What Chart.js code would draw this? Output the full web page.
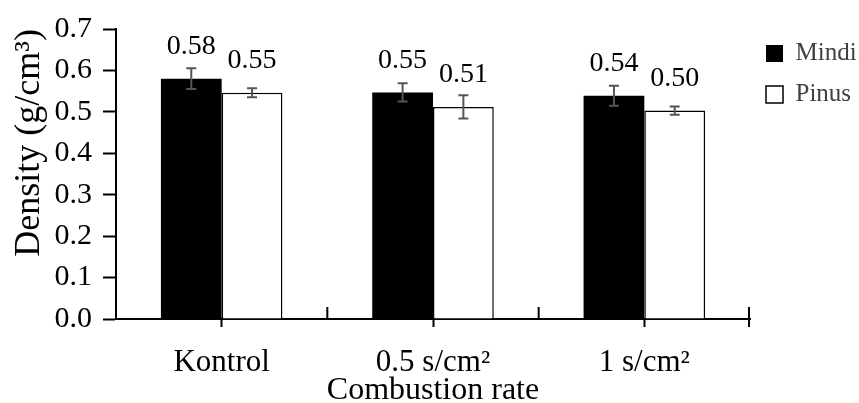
<!DOCTYPE html>
<html lang="en">
<head>
    <meta charset="UTF-8">
    <script src="https://cdn.jsdelivr.net/npm/chart.js"></script>
    <title>Density by combustion rate</title>
    <style>
        html, body { margin: 0; padding: 0; background: #fff; }
        #wrap { width: 859px; height: 403px; }
    </style>
</head>
<body>
    <div id="wrap"><canvas id="densityChart"></canvas></div>
    <script>
        const categories = ['Kontrol', '0.5 s/cm²', '1 s/cm²'];
        const mindi = [0.58, 0.547, 0.539];
        const pinus = [0.546, 0.512, 0.503];
        const mindiErr = [0.025, 0.022, 0.024];
        const pinusErr = [0.011, 0.028, 0.010];
        const errors = [mindiErr, pinusErr];

        Chart.defaults.font.family = "'Liberation Serif', 'Times New Roman', serif";
        Chart.defaults.color = '#000';

        // error bars + value labels above each bar
        const barExtras = {
            id: 'barExtras',
            afterDatasetsDraw(chart) {
                const ctx = chart.ctx;
                const yScale = chart.scales.y;
                ctx.save();
                chart.data.datasets.forEach((ds, di) => {
                    const meta = chart.getDatasetMeta(di);
                    meta.data.forEach((bar, i) => {
                        const v = ds.data[i];
                        const e = errors[di][i];
                        const yTop = yScale.getPixelForValue(v + e);
                        const yBot = yScale.getPixelForValue(v - e);
                        ctx.strokeStyle = '#555';
                        ctx.lineWidth = 2;
                        ctx.beginPath();
                        ctx.moveTo(bar.x, yTop); ctx.lineTo(bar.x, yBot);
                        ctx.moveTo(bar.x - 5, yTop); ctx.lineTo(bar.x + 5, yTop);
                        ctx.moveTo(bar.x - 5, yBot); ctx.lineTo(bar.x + 5, yBot);
                        ctx.stroke();

                        ctx.fillStyle = '#000';
                        ctx.font = "28px 'Liberation Serif'";
                        ctx.textAlign = 'center';
                        ctx.textBaseline = 'middle';
                        ctx.fillText(v.toFixed(2), bar.x, bar.y - 32);
                    });
                });
                ctx.restore();
            }
        };

        // small upward ticks on the category boundaries of the x axis
        const boundaryTicks = {
            id: 'boundaryTicks',
            afterDraw(chart) {
                const ctx = chart.ctx;
                const x = chart.scales.x;
                const area = chart.chartArea;
                ctx.save();
                ctx.strokeStyle = '#000';
                ctx.lineWidth = 2;
                ctx.beginPath();
                for (let i = 0; i < categories.length - 1; i++) {
                    const px = (x.getPixelForValue(i) + x.getPixelForValue(i + 1)) / 2;
                    ctx.moveTo(px, area.bottom);
                    ctx.lineTo(px, area.bottom - 12);
                }
                ctx.moveTo(area.right - 1, area.bottom - 12);
                ctx.lineTo(area.right - 1, area.bottom + 8);
                ctx.stroke();
                ctx.restore();
            }
        };

        const ctx = document.getElementById('densityChart').getContext('2d');
        new Chart(ctx, {
            type: 'bar',
            data: {
                labels: categories,
                datasets: [{
                    label: 'Mindi',
                    data: mindi,
                    backgroundColor: '#000',
                    borderColor: '#000',
                    borderWidth: 0,
                    categoryPercentage: 0.575,
                    barPercentage: 1
                }, {
                    label: 'Pinus',
                    data: pinus,
                    backgroundColor: '#fff',
                    borderColor: '#000',
                    borderWidth: 1.5,
                    categoryPercentage: 0.575,
                    barPercentage: 1
                }]
            },
            options: {
                responsive: true,
                maintainAspectRatio: false,
                animation: false,
                layout: { padding: { top: 25, right: 0, left: 0, bottom: 0 } },
                scales: {
                    x: {
                        afterFit(scale) { scale.height = 84; },
                        border: { display: true, color: '#000', width: 2 },
                        grid: {
                            offset: false,
                            drawOnChartArea: false,
                            drawTicks: true,
                            tickLength: 8,
                            tickColor: '#000',
                            tickWidth: 2
                        },
                        ticks: { font: { size: 31 }, padding: 17, color: '#000' },
                        title: {
                            display: true,
                            text: 'Combustion rate',
                            font: { size: 32, lineHeight: 0.8 },
                            padding: { top: 0, bottom: 0 },
                            color: '#000'
                        }
                    },
                    y: {
                        min: 0,
                        max: 0.7,
                        afterFit(scale) { scale.width = 116; },
                        border: { display: true, color: '#000', width: 2 },
                        grid: {
                            drawOnChartArea: false,
                            drawTicks: true,
                            tickLength: 13,
                            tickColor: '#000',
                            tickWidth: 2
                        },
                        ticks: {
                            stepSize: 0.1,
                            font: { size: 30 },
                            padding: 11,
                            color: '#000',
                            callback: v => v.toFixed(1)
                        },
                        title: {
                            display: true,
                            text: 'Density (g/cm³)',
                            align: 'end',
                            font: { size: 36 },
                            padding: { top: 8, bottom: 0 },
                            color: '#000'
                        }
                    }
                },
                plugins: {
                    legend: {
                        position: 'right',
                        align: 'start',
                        maxWidth: 109,
                        labels: {
                            boxWidth: 17,
                            boxHeight: 17,
                            padding: 16,
                            color: '#404040',
                            font: { size: 25 }
                        }
                    },
                    tooltip: { enabled: false }
                }
            },
            plugins: [barExtras, boundaryTicks]
        });
    </script>
</body>
</html>
